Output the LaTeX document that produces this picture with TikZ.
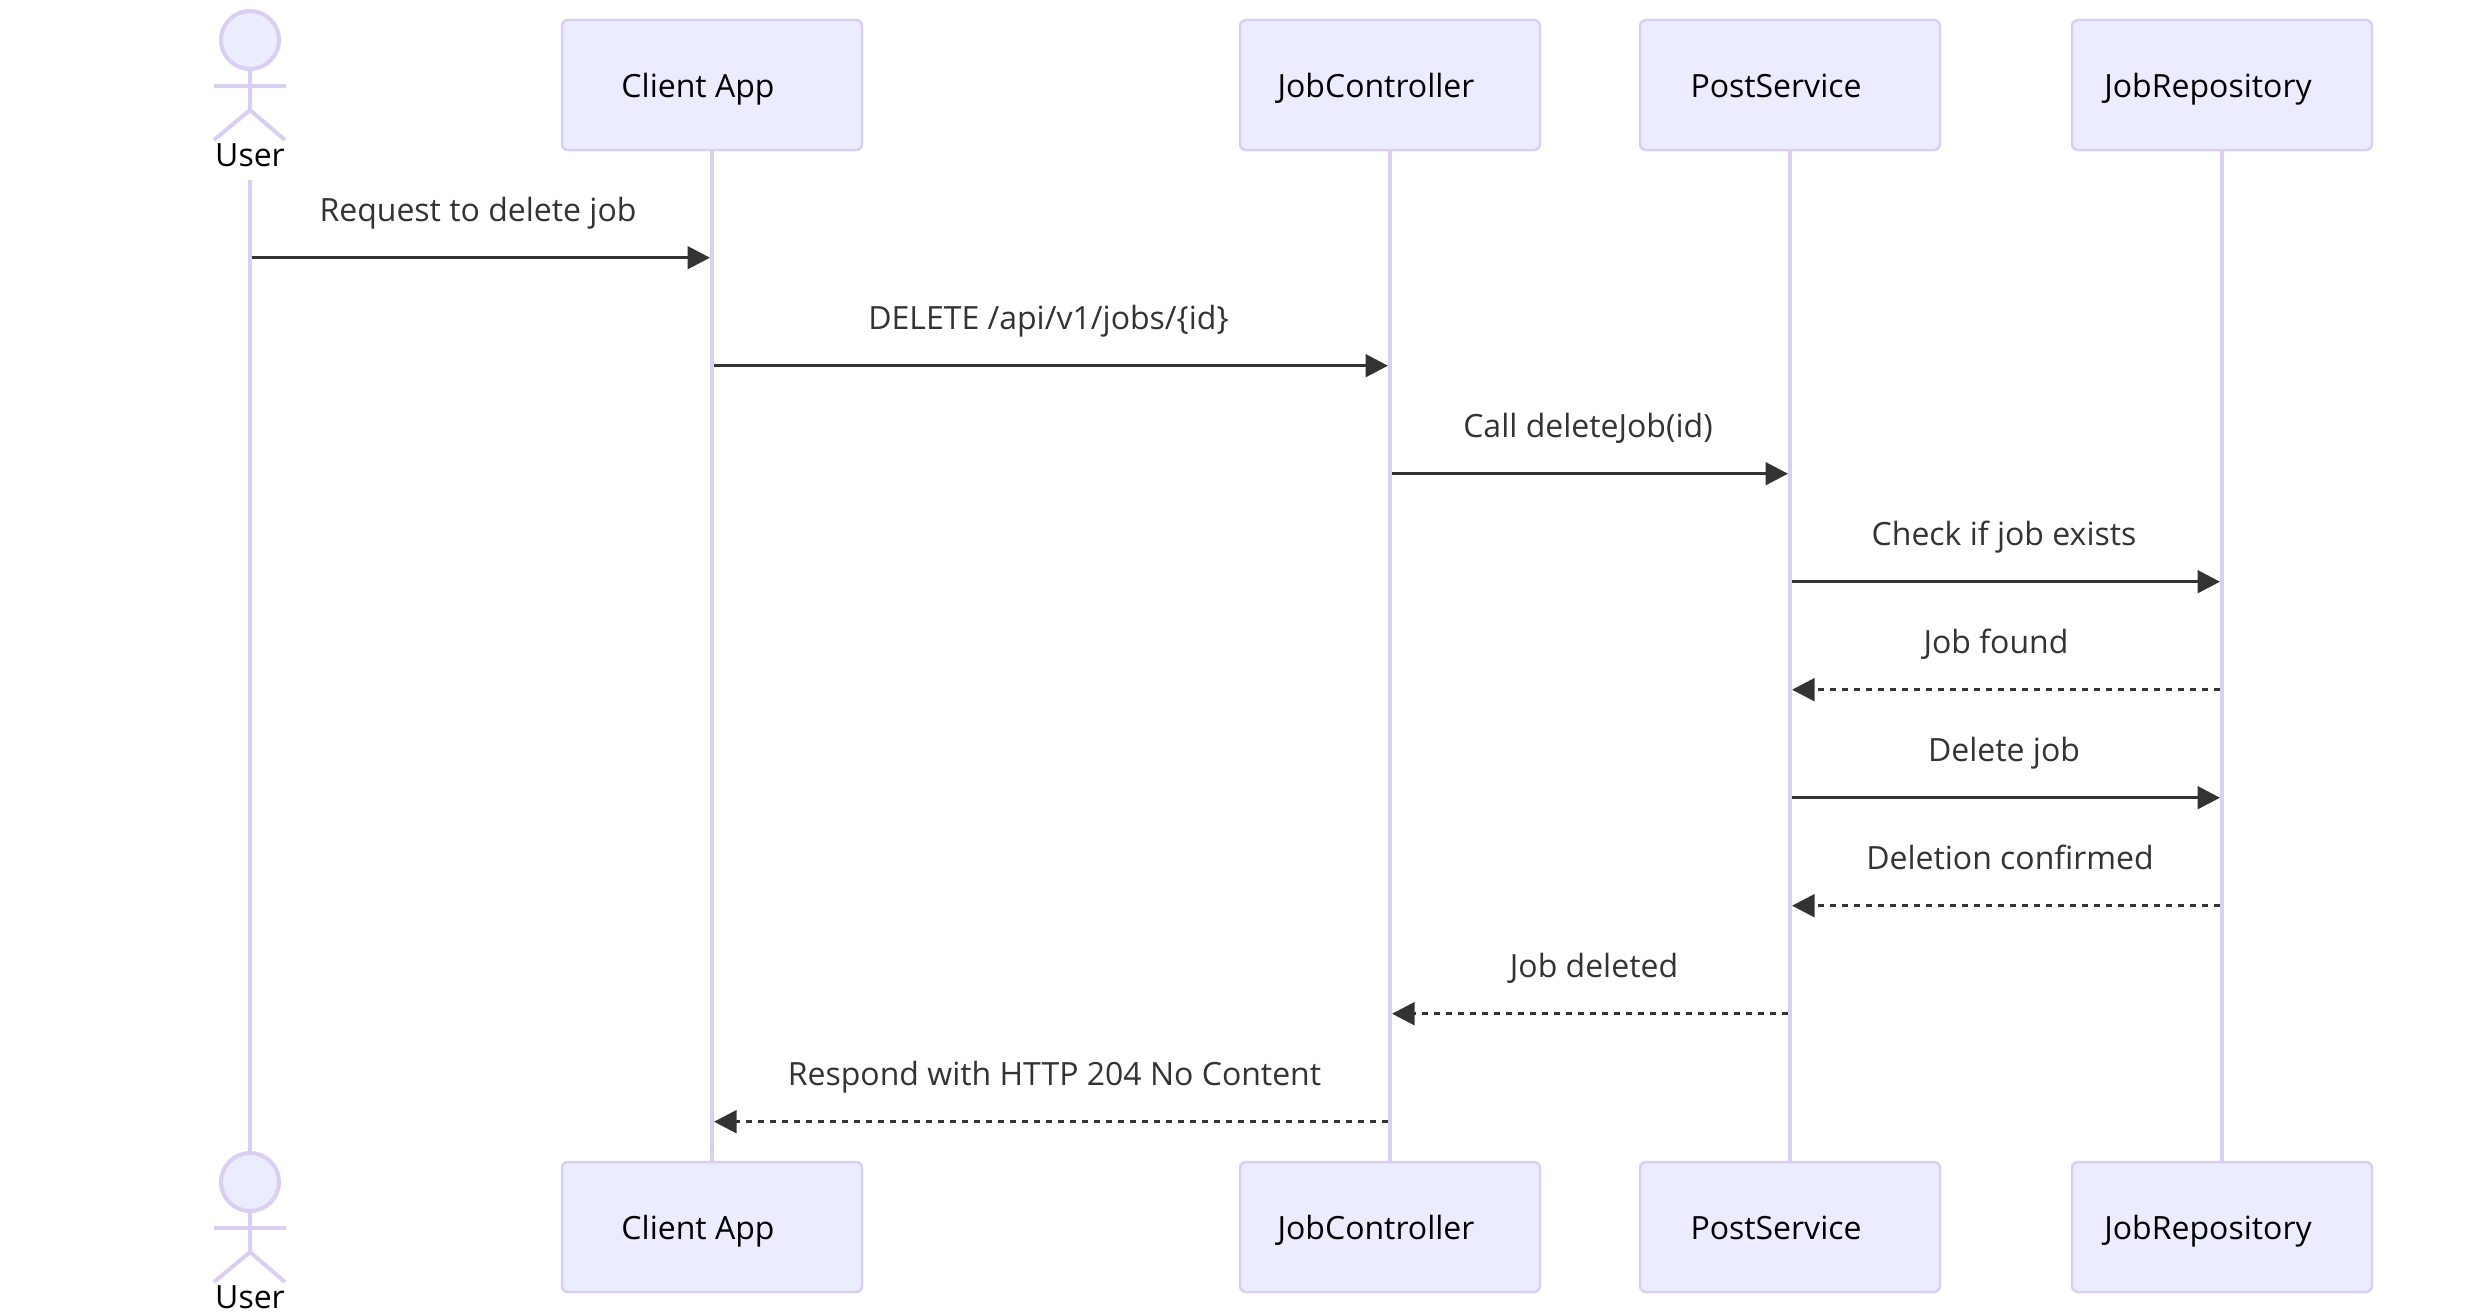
\documentclass[tikz,border=0pt]{standalone}
\usepackage{fontspec}
\setmainfont{Open Sans}
\usetikzlibrary{arrows.meta}
\definecolor{actorline}{HTML}{DACEF3}
\definecolor{actorfill}{HTML}{ECECFF}
\definecolor{msgcolor}{HTML}{333333}
\tikzset{
    actorbox/.style={draw=actorline, fill=actorfill, line width=2.5pt, rounded corners=6pt, minimum width=300pt, minimum height=130pt, inner sep=0pt, outer sep=0pt, font=\fontsize{32}{38}\selectfont, text=black, text height=32pt, text depth=7pt},
    actorhead/.style={circle, draw=actorline, fill=actorfill, line width=4pt, minimum size=58pt, inner sep=0pt, outer sep=0pt},
    stick/.style={draw=actorline, line width=4pt},
    lifeline/.style={draw=actorline, line width=4pt},
    actorname/.style={anchor=base, font=\fontsize{32}{38}\selectfont, text=black, inner sep=0pt},
    msgtext/.style={anchor=base, font=\fontsize{32}{38}\selectfont, text=msgcolor, inner sep=0pt},
    callmsg/.style={draw=msgcolor, line width=3.5pt, -{Triangle[length=22.5pt,width=22.5pt]}, shorten >=2pt, shorten <=2pt},
    replymsg/.style={callmsg, dash pattern=on 6pt off 6pt}
}

\begin{document}
\begin{tikzpicture}[x=1pt, y=-1pt]
    \useasboundingbox (0,0) rectangle (2472,1314);

    % Top row
    \node[actorhead] (user) at (250,40) {};
    \node[actorname] (usertext) at (250,166.5) {User};
    \node[actorbox] (client) at (712,85) {Client App\hspace*{28pt}};
    \node[actorbox] (controller) at (1390,85) {JobController\hspace*{28pt}};
    \node[actorbox] (service) at (1790,85) {PostService\hspace*{28pt}};
    \node[actorbox] (repository) at (2222,85) {JobRepository\hspace*{28pt}};

    % Bottom row
    \node[actorhead] (userbot) at (250,1182) {};
    \node[actorname] (userbottext) at (250,1308.5) {User};
    \node[actorbox] (clientbot) at (712,1227) {Client App\hspace*{28pt}};
    \node[actorbox] (controllerbot) at (1390,1227) {JobController\hspace*{28pt}};
    \node[actorbox] (servicebot) at (1790,1227) {PostService\hspace*{28pt}};
    \node[actorbox] (repositorybot) at (2222,1227) {JobRepository\hspace*{28pt}};

    % Stick figures
    \draw[stick] (user.south) -- ++(0,41) -- ++(-36,30);
    \draw[stick] (user.south) ++(0,41) -- ++(35,30);
    \draw[stick] (user.south) ++(-36,16.7) -- ++(72,0);
    \draw[stick] (userbot.south) -- ++(0,41) -- ++(-36,30);
    \draw[stick] (userbot.south) ++(0,41) -- ++(35,30);
    \draw[stick] (userbot.south) ++(-36,16.7) -- ++(72,0);

    % Lifelines
    \coordinate (usertop) at (250,180);
    \draw[lifeline] (usertop) -- (userbot);
    \draw[lifeline] (client) -- (clientbot);
    \draw[lifeline] (controller) -- (controllerbot);
    \draw[lifeline] (service) -- (servicebot);
    \draw[lifeline] (repository) -- (repositorybot);

    % Message rows
    \coordinate (m1) at (0,257.7);
    \coordinate (m2) at (0,365.7);
    \coordinate (m3) at (0,473.7);
    \coordinate (m4) at (0,581.7);
    \coordinate (m5) at (0,689.7);
    \coordinate (m6) at (0,797.7);
    \coordinate (m7) at (0,905.7);
    \coordinate (m8) at (0,1013.7);
    \coordinate (m9) at (0,1121.7);

    \draw[callmsg] (user |- m1) -- (client |- m1);
    \draw[callmsg] (client |- m2) -- (controller |- m2);
    \draw[callmsg] (controller |- m3) -- (service |- m3);
    \draw[callmsg] (service |- m4) -- (repository |- m4);
    \draw[replymsg] (repository |- m5) -- (service |- m5);
    \draw[callmsg] (service |- m6) -- (repository |- m6);
    \draw[replymsg] (repository |- m7) -- (service |- m7);
    \draw[replymsg] (service |- m8) -- (controller |- m8);
    \draw[replymsg] (controller |- m9) -- (client |- m9);

    % Message labels
    \node[msgtext] (t1) at (478,221.5) {Request to delete job};
    \node[msgtext] (t2) at (1048.5,329.5) {DELETE /api/v1/jobs/\{id\}};
    \node[msgtext] (t3) at (1588,437.5) {Call deleteJob(id)};
    \node[msgtext] (t4) at (2004,545.5) {Check if job exists};
    \node[msgtext] (t5) at (1996,653.5) {Job found};
    \node[msgtext] (t6) at (2004,761.5) {Delete job};
    \node[msgtext] (t7) at (2010,869.5) {Deletion confirmed};
    \node[msgtext] (t8) at (1594,977.5) {Job deleted};
    \node[msgtext] (t9) at (1054.5,1085.5) {Respond with HTTP 204 No Content};
\end{tikzpicture}
\end{document}
